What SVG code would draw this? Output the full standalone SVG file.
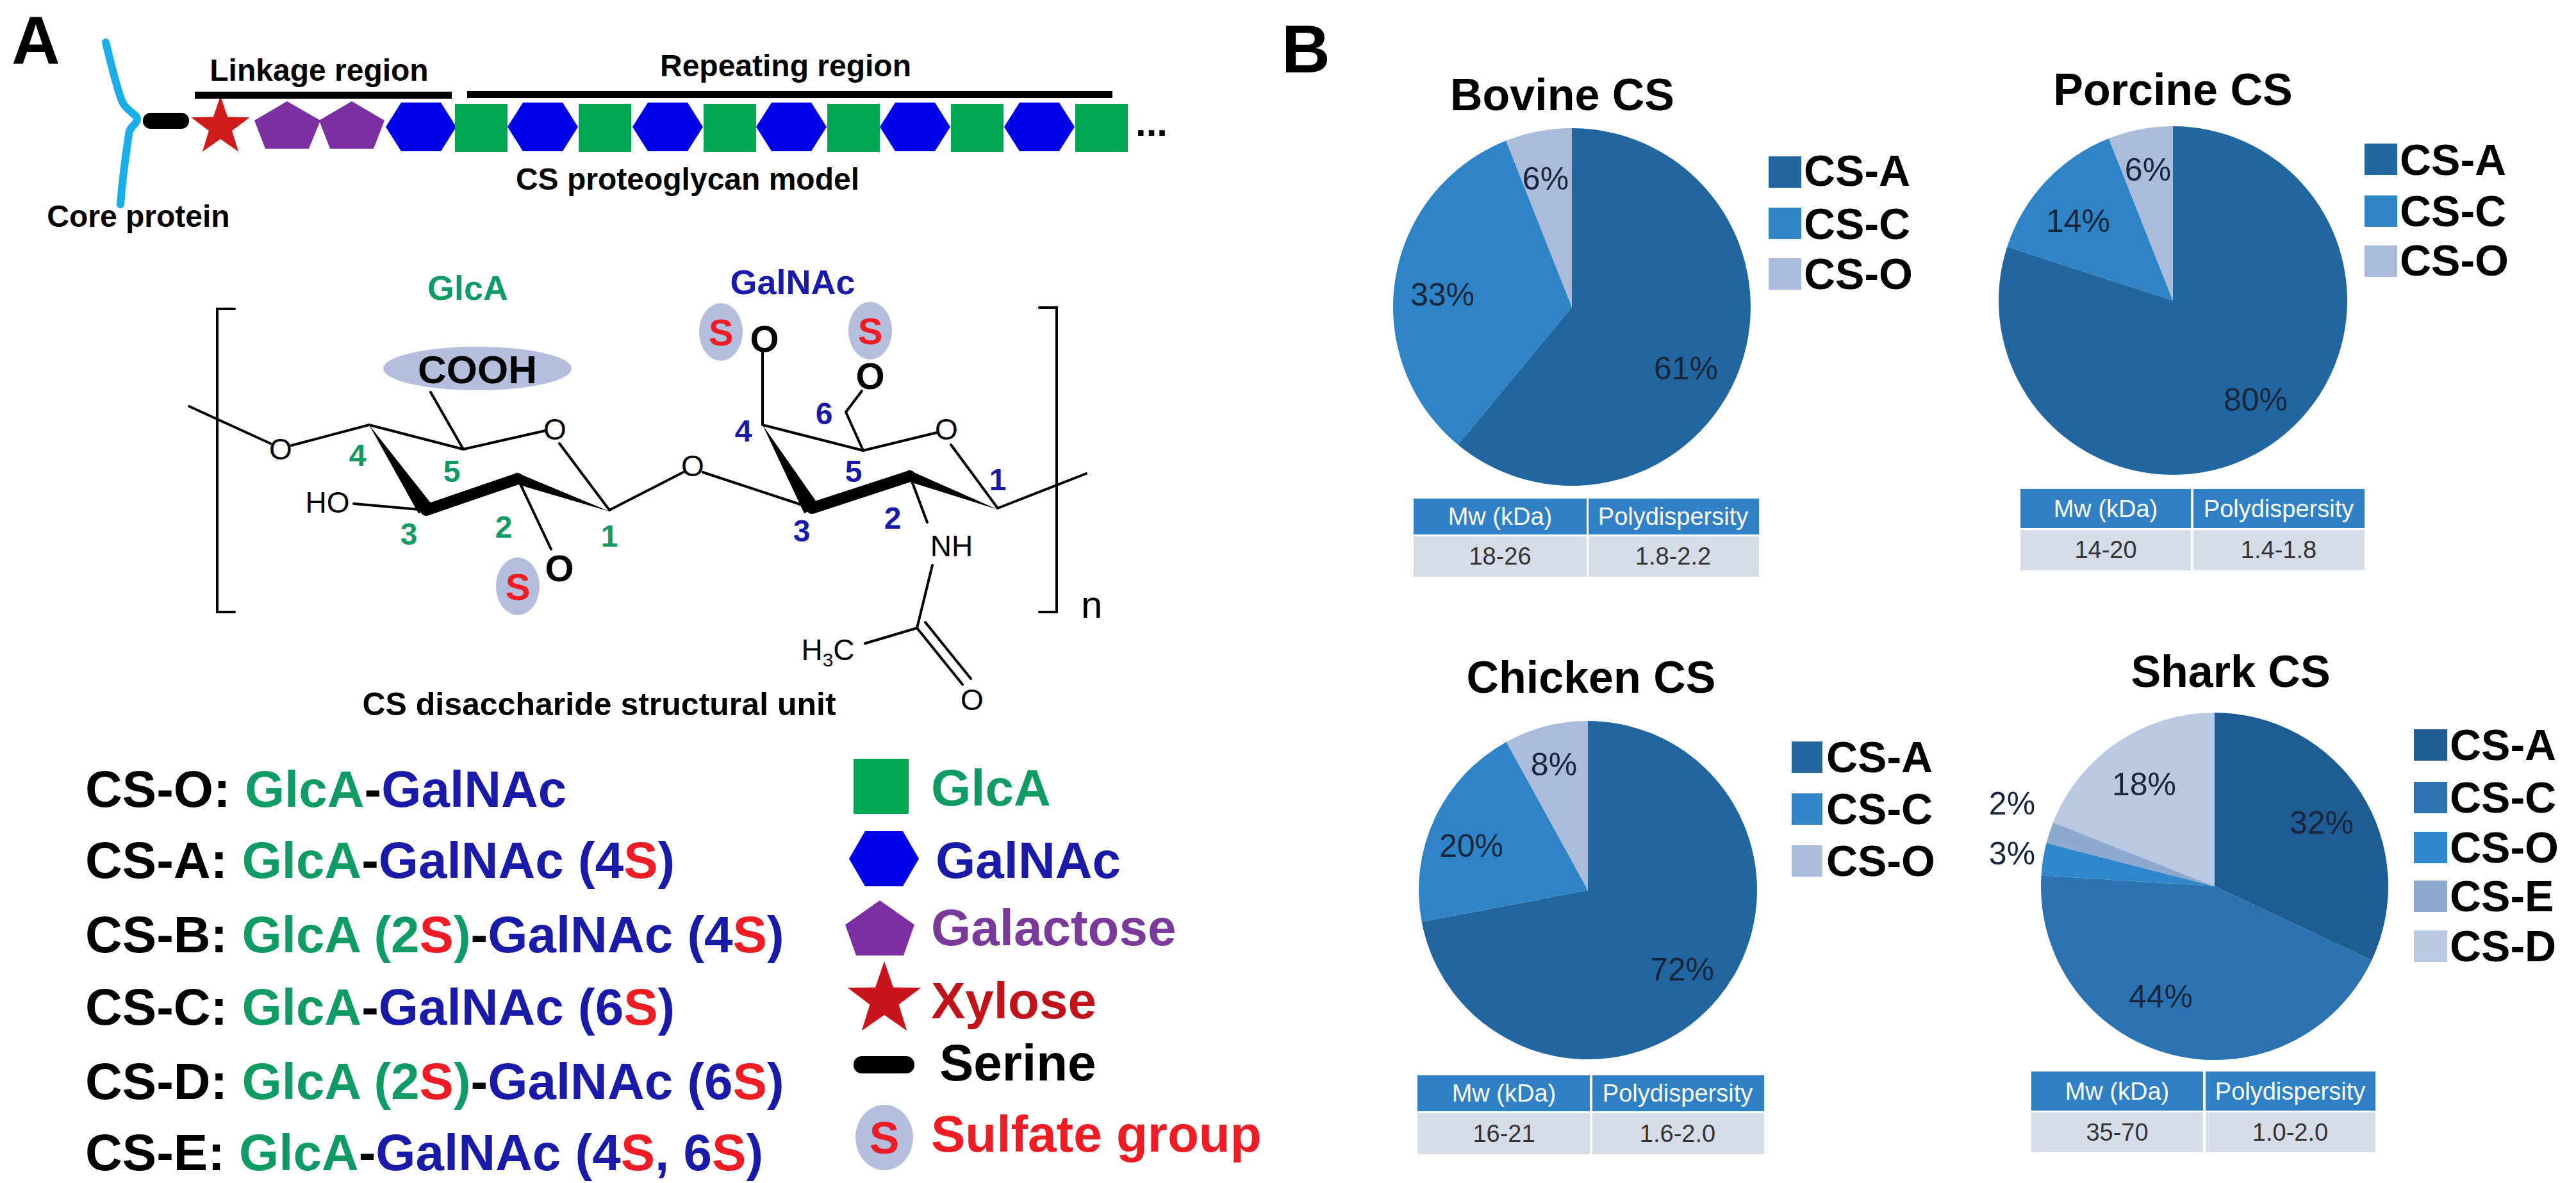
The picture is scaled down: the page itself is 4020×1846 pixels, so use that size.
<svg xmlns="http://www.w3.org/2000/svg" width="4020" height="1846" viewBox="0 0 4020 1846">
<style>
text{font-family:"Liberation Sans",Arial,sans-serif}
.b{font-weight:bold}
.lab{font-size:48px;font-weight:bold;fill:#000}
.g{fill:#0f9b63}.bl{fill:#1a1aa8}.r{fill:#ee1c24}.k{fill:#000}
.num{font-size:48px;font-weight:bold;text-anchor:middle}
.atom{font-size:46px;text-anchor:middle;fill:#000}
.bond{stroke:#000;stroke-width:4;fill:none;stroke-linecap:round}
.sq{fill:#00a651}.hx{fill:#0000e6}.pt{fill:#7b2fa0}
.sel{fill:#b4bedd}
.stxt{font-size:58px;font-weight:bold;fill:#ee1c24;text-anchor:middle}
.leg{font-size:80px;font-weight:bold}
.title{font-size:70px;font-weight:bold;text-anchor:middle}
.pl{font-size:68px;font-weight:bold}
.pct{font-size:50px;fill:#17263c;text-anchor:middle}
.th{font-size:38px;fill:#fff;text-anchor:middle}
.td{font-size:38px;fill:#333;text-anchor:middle}
.hd{fill:#2f80c4}.rw{fill:#d6dce8}
.cA{fill:#21669f}.cC{fill:#2f84c6}.cO{fill:#aabcd9}
</style>
<defs>
<polygon id="hex" points="0,38 24,0 86,0 110,38 86,76 24,76" class="hx"/>
<rect id="sqr" width="82" height="75" class="sq"/>
<polygon id="star" points="0,-48 11.2,-15.4 45.7,-14.8 18.1,5.9 28.2,38.8 0,19 -28.2,38.8 -18.1,5.9 -45.7,-14.8 -11.2,-15.4"/>
</defs>

<text x="18" y="100" class="b" font-size="105">A</text>
<text x="2000" y="113" class="b" font-size="105">B</text>

<g id="proteoglycan">
<path d="M165,66 C178,120 186,150 192,161 C200,175 214,178 214,186 C214,194 201,198 201,210 C195,250 190,290 188,319" stroke="#1aaee8" stroke-width="12" fill="none" stroke-linecap="round"/>
<rect x="223" y="176" width="72" height="25" rx="12" fill="#000"/>
<use href="#star" x="344" y="198" fill="#d11a1a"/>
<polygon class="pt" points="448,158 500,188 482,232 414,232 397,188"/>
<polygon class="pt" points="549,158 600,188 583,232 515,232 498,188"/>
<use href="#hex" x="602" y="160"/>
<use href="#sqr" x="710" y="162"/>
<use href="#hex" x="792" y="160"/>
<use href="#sqr" x="903" y="162"/>
<use href="#hex" x="987" y="160"/>
<use href="#sqr" x="1098" y="162"/>
<use href="#hex" x="1180" y="160"/>
<use href="#sqr" x="1291" y="162"/>
<use href="#hex" x="1373" y="160"/>
<use href="#sqr" x="1484" y="162"/>
<use href="#hex" x="1567" y="160"/>
<use href="#sqr" x="1678" y="162"/>
<text x="1772" y="212" class="b" font-size="60">...</text>
<rect x="304" y="143" width="401" height="11" fill="#000"/>
<rect x="729" y="142" width="1007" height="11" fill="#000"/>
<text x="498" y="126" class="lab" text-anchor="middle">Linkage region</text>
<text x="1226" y="119" class="lab" text-anchor="middle">Repeating region</text>
<text x="1073" y="296" class="lab" text-anchor="middle">CS proteoglycan model</text>
<text x="216" y="354" class="lab" text-anchor="middle">Core protein</text>
</g>

<g id="structure">
<text x="730" y="468" class="g b" font-size="54" text-anchor="middle">GlcA</text>
<text x="1237" y="459" class="bl b" font-size="54" text-anchor="middle">GalNAc</text>
<polyline class="bond" points="366,482 339,482 339,955 366,955"/>
<polyline class="bond" points="1622,480 1649,480 1649,955 1622,955"/>
<text x="1687" y="964" font-family="Liberation Serif" font-size="60">n</text>
<ellipse cx="745" cy="575" rx="147" ry="34" class="sel"/>
<text x="745" y="598" class="b" font-size="62" text-anchor="middle">COOH</text>
<line class="bond" x1="295" y1="634" x2="422" y2="692"/>
<text x="438" y="717" class="atom">O</text>
<line class="bond" x1="455" y1="695" x2="576" y2="663"/>
<line class="bond" x1="576" y1="663" x2="723" y2="701"/>
<line class="bond" x1="723" y1="701" x2="851" y2="672"/>
<text x="866" y="686" class="atom">O</text>
<line class="bond" x1="873" y1="692" x2="951" y2="796"/>
<line class="bond" x1="951" y1="796" x2="1066" y2="737"/>
<text x="1081" y="743" class="atom">O</text>
<line class="bond" x1="1097" y1="737" x2="1267" y2="793"/>
<text x="511" y="800" class="atom">HO</text>
<line class="bond" x1="552" y1="786" x2="665" y2="796"/>
<line class="bond" x1="723" y1="701" x2="672" y2="612"/>
<polygon points="576,663 653,801 677,791" fill="#000"/>
<line x1="665" y1="796" x2="808" y2="747" stroke="#000" stroke-width="18" stroke-linecap="round"/>
<polygon points="805,737 811,757 951,798" fill="#000"/>
<line class="bond" x1="808" y1="747" x2="860" y2="857"/>
<ellipse cx="808" cy="915" rx="34" ry="45" class="sel"/>
<text x="808" y="936" class="stxt">S</text>
<text x="873" y="907" class="b" font-size="58" text-anchor="middle">O</text>

<line class="bond" x1="1190" y1="663" x2="1347" y2="703"/>
<line class="bond" x1="1347" y1="703" x2="1462" y2="675"/>
<text x="1477" y="686" class="atom">O</text>
<line class="bond" x1="1484" y1="694" x2="1557" y2="793"/>
<line class="bond" x1="1557" y1="793" x2="1695" y2="739"/>
<line class="bond" x1="1190" y1="663" x2="1190" y2="548"/>
<polyline class="bond" points="1347,703 1320,643 1345,610"/>
<polygon points="1190,663 1255,801 1279,790" fill="#000"/>
<line x1="1267" y1="793" x2="1420" y2="743" stroke="#000" stroke-width="18" stroke-linecap="round"/>
<polygon points="1417,733 1423,753 1557,795" fill="#000"/>
<ellipse cx="1125" cy="518" rx="34" ry="45" class="sel"/>
<text x="1125" y="539" class="stxt">S</text>
<text x="1193" y="549" class="b" font-size="58" text-anchor="middle">O</text>
<ellipse cx="1358" cy="516" rx="34" ry="45" class="sel"/>
<text x="1358" y="537" class="stxt">S</text>
<text x="1358" y="607" class="b" font-size="58" text-anchor="middle">O</text>
<line class="bond" x1="1420" y1="743" x2="1447" y2="815"/>
<text x="1485" y="868" class="atom">NH</text>
<line class="bond" x1="1455" y1="882" x2="1431" y2="980"/>
<line class="bond" x1="1431" y1="980" x2="1350" y2="1004"/>
<text x="1292" y="1030" class="atom">H<tspan font-size="30" dy="10">3</tspan><tspan dy="-10">C</tspan></text>
<line class="bond" x1="1431" y1="980" x2="1502" y2="1068"/>
<line class="bond" x1="1444" y1="971" x2="1515" y2="1059"/>
<text x="1517" y="1108" class="atom">O</text>

<text x="558" y="727" class="num g">4</text>
<text x="705" y="752" class="num g">5</text>
<text x="638" y="850" class="num g">3</text>
<text x="786" y="839" class="num g">2</text>
<text x="951" y="853" class="num g">1</text>
<text x="1160" y="689" class="num bl">4</text>
<text x="1286" y="662" class="num bl">6</text>
<text x="1332" y="752" class="num bl">5</text>
<text x="1251" y="845" class="num bl">3</text>
<text x="1393" y="825" class="num bl">2</text>
<text x="1557" y="765" class="num bl">1</text>
<text x="935" y="1116" class="b" font-size="50" text-anchor="middle">CS disaccharide structural unit</text>
</g>

<g id="types">
<text x="133" y="1259" class="leg"><tspan class="k">CS-O: </tspan><tspan class="g">GlcA</tspan><tspan class="k">-</tspan><tspan class="bl">GalNAc</tspan></text>
<text x="133" y="1370" class="leg"><tspan class="k">CS-A: </tspan><tspan class="g">GlcA</tspan><tspan class="k">-</tspan><tspan class="bl">GalNAc (4</tspan><tspan class="r">S</tspan><tspan class="bl">)</tspan></text>
<text x="133" y="1486" class="leg"><tspan class="k">CS-B: </tspan><tspan class="g">GlcA (2</tspan><tspan class="r">S</tspan><tspan class="g">)</tspan><tspan class="k">-</tspan><tspan class="bl">GalNAc (4</tspan><tspan class="r">S</tspan><tspan class="bl">)</tspan></text>
<text x="133" y="1599" class="leg"><tspan class="k">CS-C: </tspan><tspan class="g">GlcA</tspan><tspan class="k">-</tspan><tspan class="bl">GalNAc (6</tspan><tspan class="r">S</tspan><tspan class="bl">)</tspan></text>
<text x="133" y="1715" class="leg"><tspan class="k">CS-D: </tspan><tspan class="g">GlcA (2</tspan><tspan class="r">S</tspan><tspan class="g">)</tspan><tspan class="k">-</tspan><tspan class="bl">GalNAc (6</tspan><tspan class="r">S</tspan><tspan class="bl">)</tspan></text>
<text x="133" y="1826" class="leg"><tspan class="k">CS-E: </tspan><tspan class="g">GlcA</tspan><tspan class="k">-</tspan><tspan class="bl">GalNAc (4</tspan><tspan class="r">S</tspan><tspan class="bl">, 6</tspan><tspan class="r">S</tspan><tspan class="bl">)</tspan></text>
</g>

<g id="symbol-legend">
<rect x="1332" y="1184" width="86" height="86" class="sq"/>
<text x="1453" y="1257" class="leg g">GlcA</text>
<polygon class="hx" points="1325,1340 1350,1297 1409,1297 1434,1340 1409,1383 1350,1383"/>
<text x="1460" y="1370" class="leg bl">GalNAc</text>
<polygon class="pt" points="1373,1405 1427,1443 1410,1491 1336,1491 1319,1443"/>
<text x="1453" y="1475" class="leg" fill="#7a3a9a">Galactose</text>
<use href="#star" x="1380" y="1560" fill="#c8141c" transform="translate(1380,1560) scale(1.25) translate(-1380,-1560)"/>
<text x="1453" y="1589" class="leg" fill="#c0141a">Xylose</text>
<rect x="1332" y="1648" width="95" height="27" rx="13" fill="#000"/>
<text x="1466" y="1686" class="leg k">Serine</text>
<ellipse cx="1380" cy="1775" rx="45" ry="51" class="sel"/>
<text x="1380" y="1800" class="stxt" style="font-size:70px">S</text>
<text x="1453" y="1797" class="leg r">Sulfate group</text>
</g>

<g id="bovine">
<text x="2438" y="172" class="title">Bovine CS</text>
<path class="cA" d="M2453,479 L2453,200 A279,279 0 1,1 2275.2,694 Z"/>
<path class="cC" d="M2453,479 L2275.2,694 A279,279 0 0,1 2350.3,219.6 Z"/>
<path class="cO" d="M2453,479 L2350.3,219.6 A279,279 0 0,1 2453,200 Z"/>
<text x="2412" y="296" class="pct">6%</text>
<text x="2251" y="477" class="pct">33%</text>
<text x="2631" y="592" class="pct">61%</text>
<rect x="2760" y="244" width="51" height="49" class="cA"/><text x="2815" y="290" class="pl">CS-A</text>
<rect x="2760" y="324" width="51" height="49" class="cC"/><text x="2815" y="373" class="pl">CS-C</text>
<rect x="2760" y="403" width="51" height="49" class="cO"/><text x="2815" y="451" class="pl">CS-O</text>
<rect x="2206" y="778" width="270" height="56" class="hd"/><rect x="2479" y="778" width="266" height="56" class="hd"/>
<rect x="2206" y="837" width="270" height="63" class="rw"/><rect x="2479" y="837" width="266" height="63" class="rw"/>
<text x="2341" y="819" class="th">Mw (kDa)</text><text x="2611" y="819" class="th">Polydispersity</text>
<text x="2341" y="881" class="td">18-26</text><text x="2611" y="881" class="td">1.8-2.2</text>
</g>

<g id="porcine">
<text x="3391" y="164" class="title">Porcine CS</text>
<path class="cA" d="M3391,469 L3391,197 A272,272 0 1,1 3132.3,385 Z"/>
<path class="cC" d="M3391,469 L3132.3,385 A272,272 0 0,1 3290.9,216.1 Z"/>
<path class="cO" d="M3391,469 L3290.9,216.1 A272,272 0 0,1 3391,197 Z"/>
<text x="3352" y="282" class="pct">6%</text>
<text x="3243" y="362" class="pct">14%</text>
<text x="3520" y="641" class="pct">80%</text>
<rect x="3690" y="224" width="51" height="49" class="cA"/><text x="3745" y="273" class="pl">CS-A</text>
<rect x="3690" y="305" width="51" height="49" class="cC"/><text x="3745" y="353" class="pl">CS-C</text>
<rect x="3690" y="383" width="51" height="49" class="cO"/><text x="3745" y="430" class="pl">CS-O</text>
<rect x="3153" y="763" width="266" height="61" class="hd"/><rect x="3423" y="763" width="267" height="61" class="hd"/>
<rect x="3153" y="827" width="266" height="63" class="rw"/><rect x="3423" y="827" width="267" height="63" class="rw"/>
<text x="3286" y="807" class="th">Mw (kDa)</text><text x="3556" y="807" class="th">Polydispersity</text>
<text x="3286" y="871" class="td">14-20</text><text x="3556" y="871" class="td">1.4-1.8</text>
</g>

<g id="chicken">
<text x="2483" y="1081" class="title">Chicken CS</text>
<path class="cA" d="M2478,1389 L2478,1125 A264,264 0 1,1 2218.7,1438.5 Z"/>
<path class="cC" d="M2478,1389 L2218.7,1438.5 A264,264 0 0,1 2350.8,1157.7 Z"/>
<path class="cO" d="M2478,1389 L2350.8,1157.7 A264,264 0 0,1 2478,1125 Z"/>
<text x="2425" y="1210" class="pct">8%</text>
<text x="2296" y="1337" class="pct">20%</text>
<text x="2625" y="1530" class="pct">72%</text>
<rect x="2796" y="1157" width="48" height="49" class="cA"/><text x="2850" y="1205" class="pl">CS-A</text>
<rect x="2796" y="1238" width="48" height="49" class="cC"/><text x="2850" y="1286" class="pl">CS-C</text>
<rect x="2796" y="1319" width="48" height="49" class="cO"/><text x="2850" y="1367" class="pl">CS-O</text>
<rect x="2212" y="1678" width="269" height="56" class="hd"/><rect x="2485" y="1678" width="268" height="56" class="hd"/>
<rect x="2212" y="1737" width="269" height="64" class="rw"/><rect x="2485" y="1737" width="268" height="64" class="rw"/>
<text x="2347" y="1719" class="th">Mw (kDa)</text><text x="2618" y="1719" class="th">Polydispersity</text>
<text x="2347" y="1782" class="td">16-21</text><text x="2618" y="1782" class="td">1.6-2.0</text>
</g>

<g id="shark">
<text x="3481" y="1072" class="title">Shark CS</text>
<path fill="#1f5c93" d="M3456,1383 L3456,1112 A271,271 0 0,1 3701.2,1498.4 Z"/>
<path fill="#2a72b0" d="M3456,1383 L3701.2,1498.4 A271,271 0 0,1 3185.5,1366 Z"/>
<path fill="#2e87cb" d="M3456,1383 L3185.5,1366 A271,271 0 0,1 3193.5,1315.6 Z"/>
<path fill="#8ea8cf" d="M3456,1383 L3193.5,1315.6 A271,271 0 0,1 3204,1283.2 Z"/>
<path fill="#b9c9e2" d="M3456,1383 L3204,1283.2 A271,271 0 0,1 3456,1112 Z"/>
<text x="3346" y="1241" class="pct">18%</text>
<text x="3623" y="1301" class="pct">32%</text>
<text x="3372" y="1572" class="pct">44%</text>
<text x="3140" y="1271" class="pct">2%</text>
<text x="3140" y="1349" class="pct">3%</text>
<rect x="3767" y="1138" width="52" height="49" fill="#1f5c93"/><text x="3823" y="1186" class="pl">CS-A</text>
<rect x="3767" y="1220" width="52" height="49" fill="#2a72b0"/><text x="3823" y="1268" class="pl">CS-C</text>
<rect x="3767" y="1298" width="52" height="49" fill="#2e87cb"/><text x="3823" y="1346" class="pl">CS-O</text>
<rect x="3767" y="1374" width="52" height="49" fill="#8ea8cf"/><text x="3823" y="1422" class="pl">CS-E</text>
<rect x="3767" y="1452" width="52" height="49" fill="#b9c9e2"/><text x="3823" y="1500" class="pl">CS-D</text>
<rect x="3170" y="1672" width="268" height="61" class="hd"/><rect x="3442" y="1672" width="265" height="61" class="hd"/>
<rect x="3170" y="1736" width="268" height="62" class="rw"/><rect x="3442" y="1736" width="265" height="62" class="rw"/>
<text x="3304" y="1716" class="th">Mw (kDa)</text><text x="3574" y="1716" class="th">Polydispersity</text>
<text x="3304" y="1780" class="td">35-70</text><text x="3574" y="1780" class="td">1.0-2.0</text>
</g>
</svg>
